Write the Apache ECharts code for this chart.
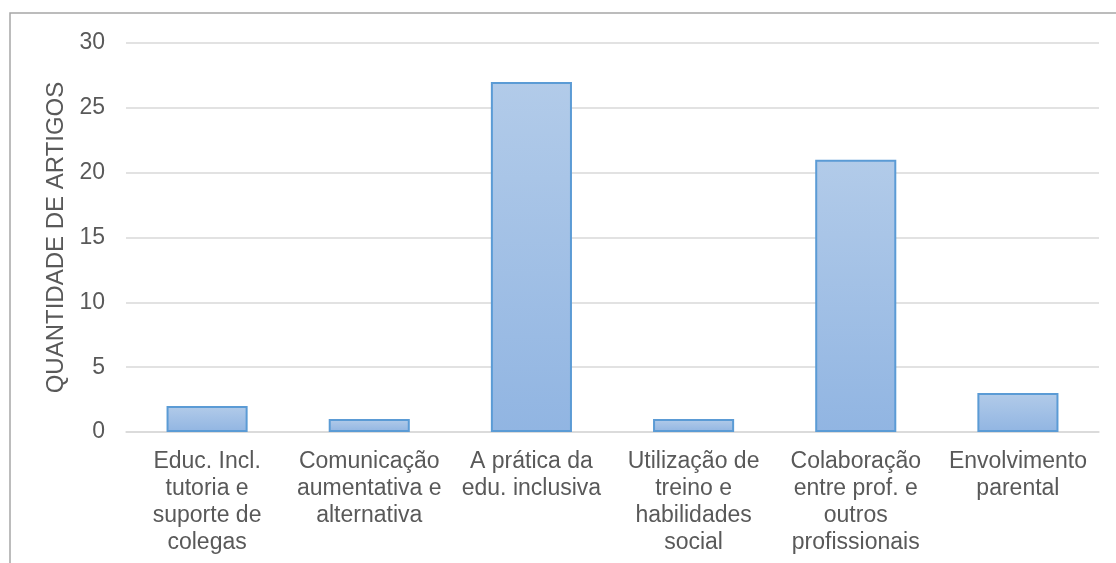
<!DOCTYPE html>
<html>
<head>
<meta charset="utf-8">
<script src="https://cdn.jsdelivr.net/npm/echarts@6/dist/echarts.min.js"></script>
<style>
  html, body { margin: 0; padding: 0; background: #fff; }
  #chart { width: 1116px; height: 563px; }
</style>
</head>
<body>
<div id="chart"></div>
<script>
// Temas dos artigos analisados
const categories = [
  'Educ. Incl.\ntutoria e\nsuporte de\ncolegas',
  'Comunicação\naumentativa e\nalternativa',
  'A prática da\nedu. inclusiva',
  'Utilização de\ntreino e\nhabilidades\nsocial',
  'Colaboração\nentre prof. e\noutros\nprofissionais',
  'Envolvimento\nparental'
];
// Quantidade de artigos por tema
const articleCounts = [2, 1, 27, 1, 21, 3];
const yTicks = { min: 0, max: 30, interval: 5 };

const textColor = '#595959';
const fontFamily = 'Liberation Sans, Arial, sans-serif';

const chart = echarts.init(document.getElementById('chart'));
chart.setOption({
  animation: false,
  backgroundColor: '#ffffff',
  grid: { left: 126, right: 17, top: 43, bottom: 131, containLabel: false },
  graphic: [{
    type: 'rect',
    shape: { x: 10, y: 13, width: 1200, height: 700 },
    style: { fill: 'none', stroke: '#a6a6a6', lineWidth: 1.5 },
    silent: true
  }],
  xAxis: {
    type: 'category',
    data: categories,
    axisLine: { show: true, lineStyle: { color: '#d9d9d9', width: 1.5 } },
    axisTick: { show: false },
    axisLabel: {
      color: textColor, fontSize: 23, fontFamily: fontFamily,
      lineHeight: 27, margin: 16, interval: 0, align: 'center'
    }
  },
  yAxis: {
    type: 'value',
    min: yTicks.min, max: yTicks.max, interval: yTicks.interval,
    name: 'QUANTIDADE DE ARTIGOS',
    nameLocation: 'middle',
    nameGap: 51,
    nameRotate: 90,
    nameTextStyle: { color: textColor, fontSize: 24, fontFamily: fontFamily },
    axisLine: { show: false },
    axisTick: { show: false },
    axisLabel: { color: textColor, fontSize: 23, fontFamily: fontFamily, margin: 21 },
    splitLine: { lineStyle: { color: '#d9d9d9', width: 1.5 } }
  },
  series: [{
    type: 'bar',
    data: articleCounts,
    barWidth: '50%',
    itemStyle: {
      color: new echarts.graphic.LinearGradient(0, 0, 0, 1, [
        { offset: 0, color: '#b2cbe9' },
        { offset: 1, color: '#91b5e2' }
      ]),
      borderColor: '#5b9bd5',
      borderWidth: 2
    }
  }]
});
</script>
</body>
</html>
